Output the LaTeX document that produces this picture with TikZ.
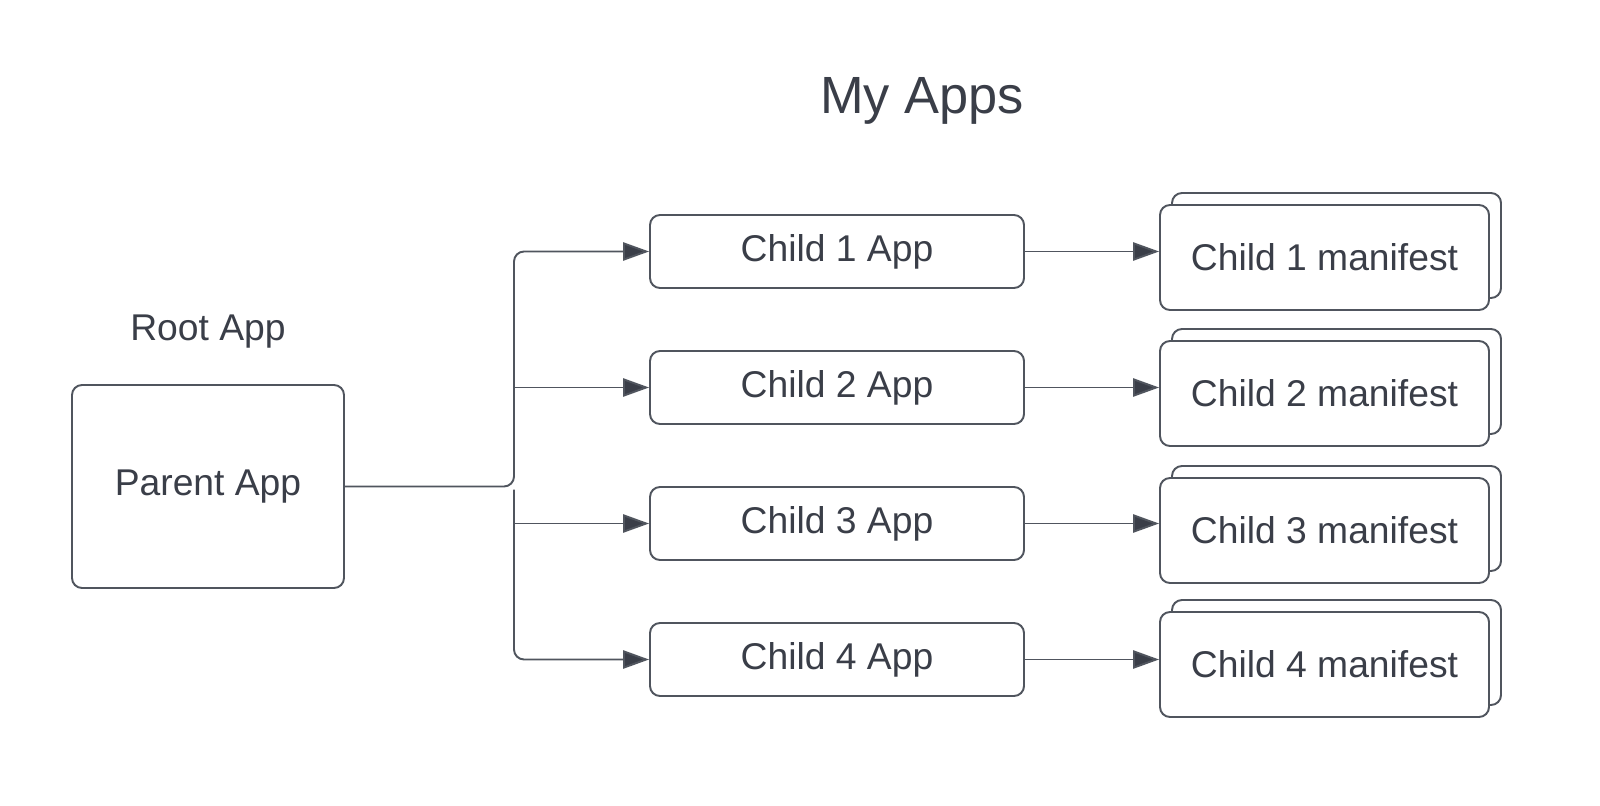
\documentclass[tikz,border=0pt]{standalone}
\usepackage{fontspec}
\setmainfont{Liberation Sans}
\usepackage{xcolor}
\usetikzlibrary{arrows.meta, positioning, shadows}
\definecolor{linecol}{HTML}{50555E}
\definecolor{textcol}{HTML}{3A3E48}
\tikzset{
    box/.style={draw=linecol, line width=0.55pt, rounded corners=0.1cm, fill=white, text=textcol, font=\fontsize{10.6}{12}\selectfont},
    appbox/.style={box, minimum width=3.74cm, minimum height=0.73cm},
    manbox/.style={box, minimum width=3.29cm, minimum height=1.05cm,
        general shadow={shadow xshift=0.12cm, shadow yshift=0.12cm, fill=white, draw=linecol, line width=0.55pt}},
    arr/.style={draw=linecol, line width=0.55pt, -{Triangle[length=7.4pt, width=5.2pt, fill=textcol]}}
}
\begin{document}
\begin{tikzpicture}
    \useasboundingbox (0,0) rectangle (16,8.05);

    \node[text=textcol, font=\fontsize{14.9}{17}\selectfont] (title) at (9.22,7.04) {My Apps};

    \node[text=textcol, font=\fontsize{10.6}{12}\selectfont] (root) at (2.08,4.73) {Root App};
    \node[box, minimum width=2.72cm, minimum height=2.03cm] (parent) at (2.08,3.185) {Parent App};

    \node[appbox] (c1) at (8.37,5.535) {Child 1 App};
    \node[appbox] (c2) at (8.37,4.175) {Child 2 App};
    \node[appbox] (c3) at (8.37,2.815) {Child 3 App};
    \node[appbox] (c4) at (8.37,1.455) {Child 4 App};

    \node[manbox] (m1) at (13.245,5.475) {Child 1 manifest};
    \node[manbox] (m2) at (13.245,4.115) {Child 2 manifest};
    \node[manbox] (m3) at (13.245,2.745) {Child 3 manifest};
    \node[manbox] (m4) at (13.245,1.405) {Child 4 manifest};

    \coordinate (split) at (5.14,3.185);

    \draw[arr, rounded corners=0.1cm] (parent.east) -- (split) |- (c1.west);
    \draw[arr] (split |- c2.west) -- (c2.west);
    \draw[arr] (split |- c3.west) -- (c3.west);
    \draw[arr, rounded corners=0.1cm] ([yshift=-0.03cm]split) |- (c4.west);

    \draw[arr] (c1.east) -- (c1.east -| m1.west);
    \draw[arr] (c2.east) -- (c2.east -| m2.west);
    \draw[arr] (c3.east) -- (c3.east -| m3.west);
    \draw[arr] (c4.east) -- (c4.east -| m4.west);
\end{tikzpicture}
\end{document}
